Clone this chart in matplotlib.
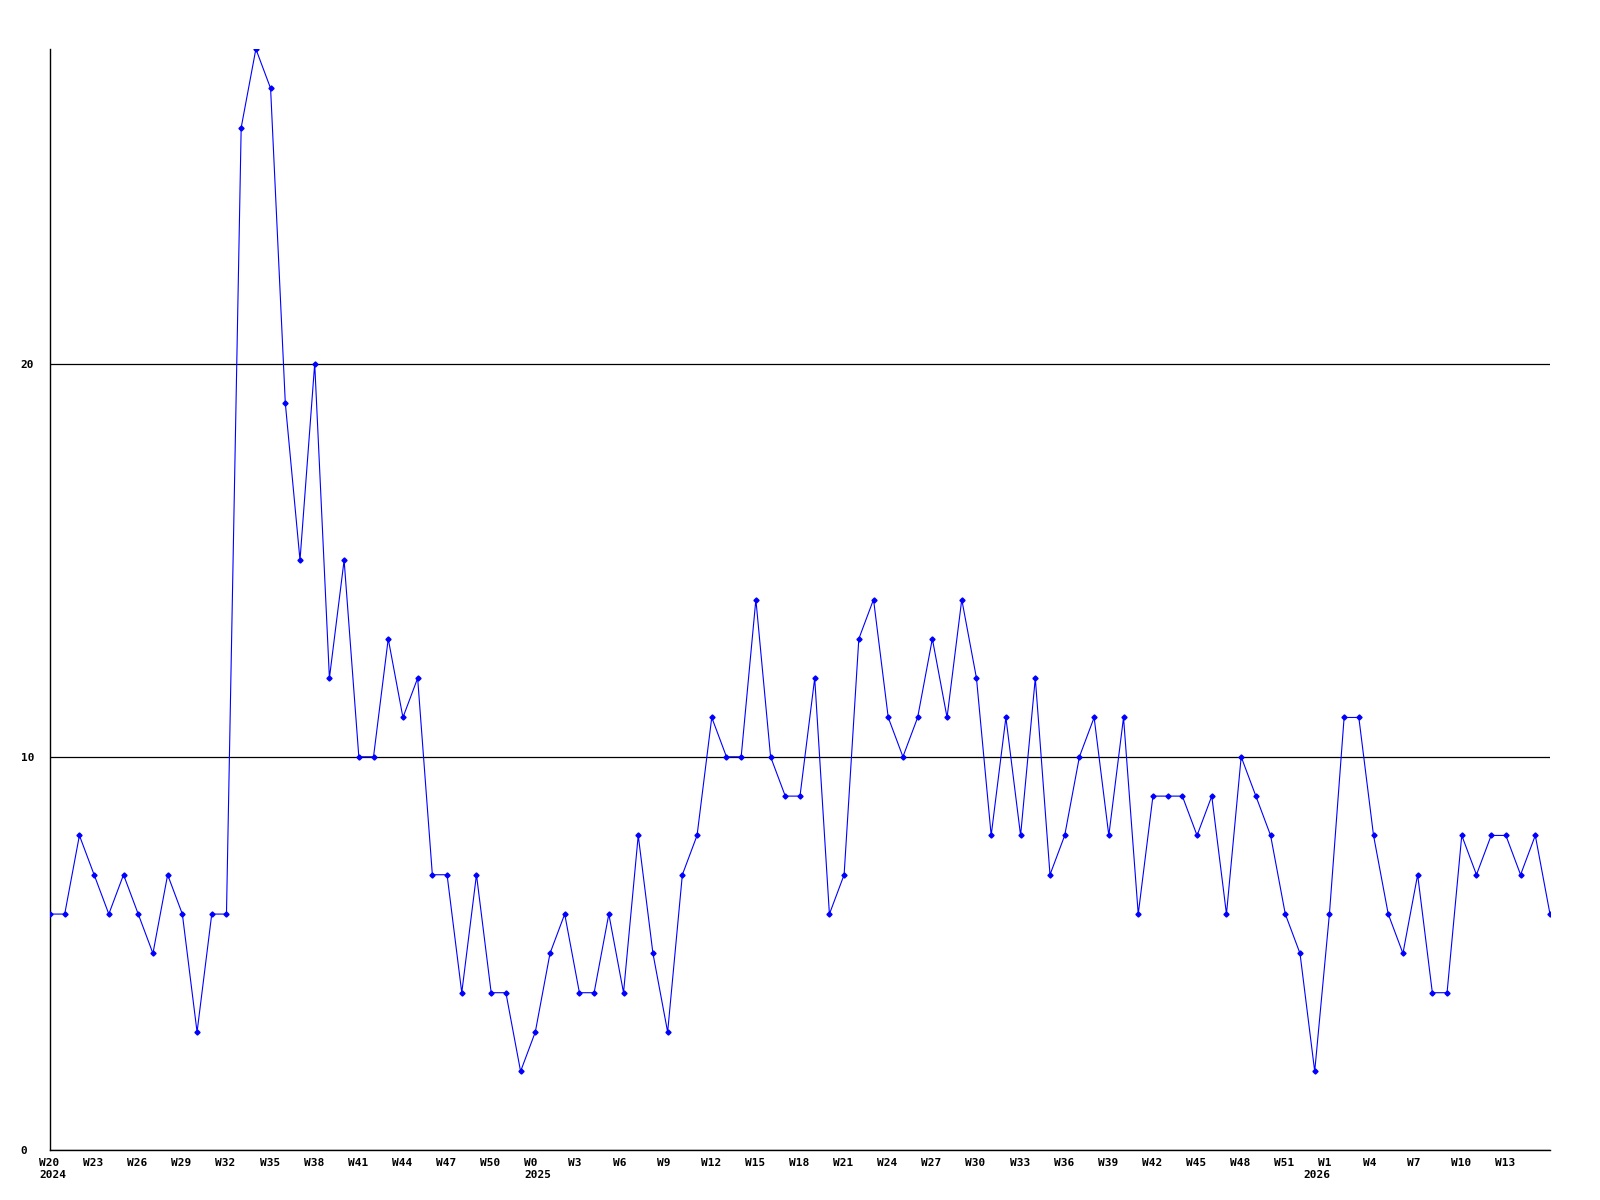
import matplotlib
matplotlib.use("Agg")
import matplotlib.pyplot as plt
from matplotlib.transforms import ScaledTranslation

# Weekly values from W20 2024 to W16 2026
values = [6, 6, 8, 7, 6, 7, 6, 5, 7, 6,
          3, 6, 6, 26, 28, 27, 19, 15, 20, 12,
          15, 10, 10, 13, 11, 12, 7, 7, 4, 7,
          4, 4, 2, 3, 5, 6, 4, 4, 6, 4,
          8, 5, 3, 7, 8, 11, 10, 10, 14, 10,
          9, 9, 12, 6, 7, 13, 14, 11, 10, 11,
          13, 11, 14, 12, 8, 11, 8, 12, 7, 8,
          10, 11, 8, 11, 6, 9, 9, 9, 8, 9,
          6, 10, 9, 8, 6, 5, 2, 6, 11, 11,
          8, 6, 5, 7, 4, 4, 8, 7, 8, 8,
          7, 8, 6]

# Week tick labels, one for every third week
tick_labels = ["W20", "W23", "W26", "W29", "W32", "W35", "W38", "W41",
               "W44", "W47", "W50", "W0", "W3", "W6", "W9", "W12", "W15",
               "W18", "W21", "W24", "W27", "W30", "W33", "W36", "W39", "W42",
               "W45", "W48", "W51", "W1", "W4", "W7", "W10", "W13"]

# Year labels and the index of the first week of each year
year_labels = ["2024", "2025", "2026"]
year_first_week = [0, 33, 86]

y_ticks = [0, 10, 20]
y_max = 28

fig = plt.figure(figsize=(16, 12), dpi=100)
fig.patch.set_facecolor("white")
ax = fig.add_axes([50 / 1600, 50 / 1200, 1500 / 1600, 1101 / 1200])

x = list(range(len(values)))
ax.plot(x, values, color="#0000ff", linewidth=0.8, marker="D",
        markersize=2.6, markerfacecolor="#0000ff", markeredgecolor="#0000ff",
        zorder=3)

ax.set_xlim(0, len(values) - 1)
ax.set_ylim(0, y_max)

for s in ["top", "right"]:
    ax.spines[s].set_visible(False)
for s in ["left", "bottom"]:
    ax.spines[s].set_color("black")
    ax.spines[s].set_linewidth(1.0)

ax.set_yticks(y_ticks)
ax.set_yticklabels([str(v) for v in y_ticks])
ax.grid(axis="y", color="black", linewidth=0.9)
ax.set_axisbelow(True)

ax.set_xticks(list(range(0, 3 * len(tick_labels), 3)))
ax.set_xticklabels(tick_labels)

mono = "DejaVu Sans Mono"
ax.tick_params(axis="x", length=0, pad=5.5, labelsize=8)
ax.tick_params(axis="y", length=0, pad=21, labelsize=8)

off = ScaledTranslation(-11 / 100, 0, fig.dpi_scale_trans)
for lab in ax.get_xticklabels():
    lab.set_fontfamily(mono)
    lab.set_fontweight("bold")
    lab.set_ha("left")
    lab.set_transform(lab.get_transform() + off)
for lab in ax.get_yticklabels():
    lab.set_fontfamily(mono)
    lab.set_fontweight("bold")
    lab.set_ha("left")

for lbl, idx in zip(year_labels, year_first_week):
    ax.annotate(lbl, xy=(idx, 0), xycoords=("data", "axes fraction"),
                xytext=(-11 * 0.72, -20.5 * 0.72), textcoords="offset points",
                ha="left", va="top", fontsize=8, fontweight="bold",
                family=mono, annotation_clip=False)

fig.savefig("out.png", dpi=100, facecolor="white")
